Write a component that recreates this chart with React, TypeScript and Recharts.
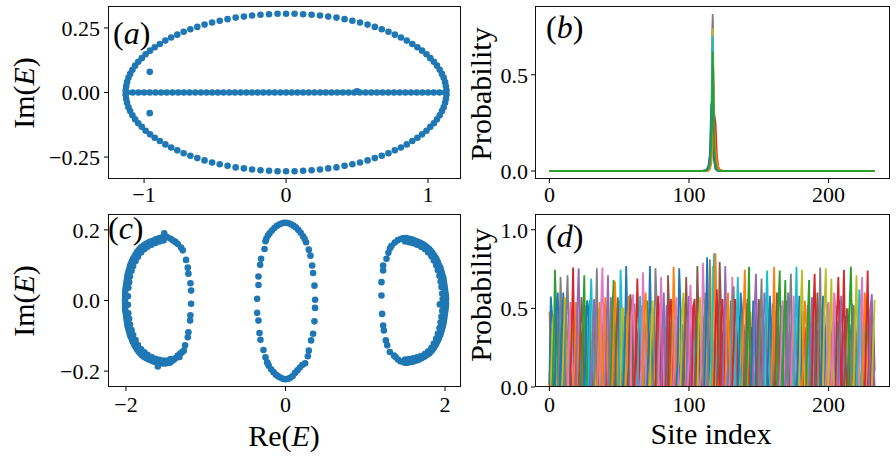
import React from 'react';
import { ScatterChart, Scatter, LineChart, Line, XAxis, YAxis } from 'recharts';

// matplotlib tab10 cycle
const C = ['#1f77b4', '#ff7f0e', '#2ca02c', '#d62728', '#9467bd', '#8c564b', '#e377c2', '#7f7f7f', '#bcbd22', '#17becf'];
const DOT = '#1f77b4';

// ---------- (a) eigenvalues, ellipse + real axis ----------
const ellipseA: [number, number][] = [
  [1.130, 0.008], [1.126, 0.024], [1.120, 0.040], [1.110, 0.057], [1.098, 0.072], [1.082, 0.088], [1.063, 0.104], [1.041, 0.119],
  [1.016, 0.133], [0.989, 0.148], [0.958, 0.162], [0.925, 0.175], [0.889, 0.188], [0.850, 0.201], [0.809, 0.213], [0.766, 0.224],
  [0.721, 0.235], [0.674, 0.245], [0.625, 0.254], [0.574, 0.263], [0.521, 0.271], [0.467, 0.278], [0.412, 0.284], [0.355, 0.290],
  [0.297, 0.294], [0.239, 0.298], [0.180, 0.301], [0.120, 0.303], [0.060, 0.305], [0.000, 0.305],
  [-0.060, 0.305], [-0.120, 0.303], [-0.180, 0.301], [-0.239, 0.298], [-0.297, 0.294], [-0.355, 0.290], [-0.412, 0.284], [-0.467, 0.278],
  [-0.521, 0.271], [-0.574, 0.263], [-0.625, 0.254], [-0.674, 0.245], [-0.721, 0.235], [-0.766, 0.224], [-0.809, 0.213], [-0.850, 0.201],
  [-0.889, 0.188], [-0.925, 0.175], [-0.958, 0.162], [-0.989, 0.148], [-1.016, 0.133], [-1.041, 0.119], [-1.063, 0.104], [-1.082, 0.088],
  [-1.098, 0.072], [-1.110, 0.057], [-1.120, 0.040], [-1.126, 0.024], [-1.130, 0.008],
  [1.130, -0.008], [1.126, -0.024], [1.120, -0.040], [1.110, -0.057], [1.098, -0.072], [1.082, -0.088], [1.063, -0.104], [1.041, -0.119],
  [1.016, -0.133], [0.989, -0.148], [0.958, -0.162], [0.925, -0.175], [0.889, -0.188], [0.850, -0.201], [0.809, -0.213], [0.766, -0.224],
  [0.721, -0.235], [0.674, -0.245], [0.625, -0.254], [0.574, -0.263], [0.521, -0.271], [0.467, -0.278], [0.412, -0.284], [0.355, -0.290],
  [0.297, -0.294], [0.239, -0.298], [0.180, -0.301], [0.120, -0.303], [0.060, -0.305], [0.000, -0.305],
  [-0.060, -0.305], [-0.120, -0.303], [-0.180, -0.301], [-0.239, -0.298], [-0.297, -0.294], [-0.355, -0.290], [-0.412, -0.284], [-0.467, -0.278],
  [-0.521, -0.271], [-0.574, -0.263], [-0.625, -0.254], [-0.674, -0.245], [-0.721, -0.235], [-0.766, -0.224], [-0.809, -0.213], [-0.850, -0.201],
  [-0.889, -0.188], [-0.925, -0.175], [-0.958, -0.162], [-0.989, -0.148], [-1.016, -0.133], [-1.041, -0.119], [-1.063, -0.104], [-1.082, -0.088],
  [-1.098, -0.072], [-1.110, -0.057], [-1.120, -0.040], [-1.126, -0.024], [-1.130, -0.008],
];
const realAxisRe = [
  -1.12, -1.08, -1.04, -1.00, -0.96, -0.92, -0.88, -0.84, -0.80, -0.76, -0.72, -0.68, -0.64, -0.60, -0.56, -0.52, -0.48, -0.44, -0.40,
  -0.36, -0.32, -0.28, -0.24, -0.20, -0.16, -0.12, -0.08, -0.04, 0.00, 0.04, 0.08, 0.12, 0.16, 0.20, 0.24, 0.28, 0.32, 0.36, 0.40,
  0.44, 0.48, 0.52, 0.56, 0.60, 0.64, 0.68, 0.72, 0.76, 0.80, 0.84, 0.88, 0.92, 0.96, 1.00, 1.04, 1.08, 1.12,
];
const extraA: [number, number][] = [[-0.96, 0.08], [-0.96, -0.08], [0.5, 0.005]];

// ---------- (c) eigenvalues, three loops ----------
const leftLoop: [number, number][] = [
  [-1.50, 0.180], [-1.525, 0.179], [-1.55, 0.178], [-1.575, 0.177], [-1.60, 0.175], [-1.625, 0.173], [-1.65, 0.170], [-1.675, 0.168],
  [-1.70, 0.166], [-1.725, 0.163], [-1.75, 0.160], [-1.775, 0.156], [-1.80, 0.152], [-1.82, 0.148], [-1.84, 0.143], [-1.86, 0.137],
  [-1.88, 0.130], [-1.895, 0.124], [-1.91, 0.118], [-1.925, 0.111], [-1.94, 0.103], [-1.95, 0.096], [-1.96, 0.088], [-1.97, 0.080],
  [-1.98, 0.072], [-1.985, 0.064], [-1.99, 0.056], [-1.995, 0.048], [-2.00, 0.040], [-2.005, 0.032], [-2.01, 0.024], [-2.01, 0.016],
  [-2.01, 0.008], [-2.012, 0.000], [-2.01, -0.008], [-2.01, -0.016], [-2.01, -0.024], [-2.005, -0.032], [-2.00, -0.040], [-1.995, -0.048],
  [-1.99, -0.056], [-1.985, -0.064], [-1.98, -0.072], [-1.97, -0.080], [-1.96, -0.088], [-1.95, -0.096], [-1.94, -0.103], [-1.925, -0.111],
  [-1.91, -0.118], [-1.895, -0.125], [-1.88, -0.132], [-1.86, -0.139], [-1.84, -0.145], [-1.82, -0.150], [-1.80, -0.155], [-1.775, -0.159],
  [-1.75, -0.163], [-1.725, -0.166], [-1.70, -0.168], [-1.675, -0.171], [-1.65, -0.173], [-1.625, -0.175], [-1.60, -0.176], [-1.575, -0.177],
  [-1.55, -0.178], [-1.525, -0.178], [-1.50, -0.178], [-1.475, -0.177], [-1.45, -0.176],
  [-1.53, 0.170], [-1.58, 0.167], [-1.63, 0.163], [-1.68, 0.158], [-1.73, 0.152], [-1.77, 0.145], [-1.81, 0.136], [-1.85, 0.124],
  [-1.88, 0.112], [-1.91, 0.098], [-1.93, 0.084], [-1.95, 0.068], [-1.96, 0.052], [-1.97, 0.036], [-1.975, 0.012], [-1.975, -0.012],
  [-1.97, -0.036], [-1.96, -0.052], [-1.95, -0.068], [-1.93, -0.084], [-1.91, -0.098], [-1.88, -0.112], [-1.85, -0.126], [-1.81, -0.138],
  [-1.77, -0.147], [-1.73, -0.154], [-1.68, -0.160], [-1.63, -0.165], [-1.58, -0.168], [-1.53, -0.170], [-1.48, -0.170], [-1.44, -0.166],
  [-1.52, 0.190], [-1.48, 0.179], [-1.44, 0.175], [-1.41, 0.170], [-1.38, 0.166], [-1.35, 0.160], [-1.31, 0.150], [-1.288, 0.142],
  [-1.43, -0.173], [-1.40, -0.168], [-1.37, -0.162], [-1.35, -0.156], [-1.32, -0.150], [-1.30, -0.147],
  [-1.246, 0.115], [-1.225, 0.093], [-1.217, 0.076], [-1.192, 0.049], [-1.183, 0.028], [-1.183, -0.009], [-1.192, -0.042],
  [-1.196, -0.057], [-1.217, -0.090], [-1.225, -0.104], [-1.259, -0.127], [-1.275, -0.142], [-1.33, -0.160], [-1.60, -0.187],
];
const centerLoop: [number, number][] = [
  [-0.263, 0.146], [-0.306, 0.118], [-0.318, 0.101], [-0.339, 0.068], [-0.339, 0.044], [-0.356, 0.005], [-0.356, -0.035],
  [-0.339, -0.057], [-0.326, -0.092], [-0.314, -0.111], [-0.276, -0.140], [-0.251, -0.161], [-0.231, -0.175],
  [0.258, 0.165], [0.292, 0.144], [0.313, 0.127], [0.334, 0.099], [0.346, 0.078], [0.363, 0.042], [0.371, 0.002], [0.371, -0.021],
  [0.363, -0.059], [0.346, -0.094], [0.321, -0.113], [0.292, -0.142], [0.280, -0.158], [0.246, -0.178],
  [-0.25, 0.168], [-0.24, 0.175], [-0.22, 0.184], [-0.20, 0.190], [-0.17, 0.198], [-0.14, 0.205], [-0.11, 0.211], [-0.08, 0.215],
  [-0.05, 0.218], [-0.02, 0.220], [0.01, 0.220], [0.04, 0.219], [0.07, 0.216], [0.10, 0.212], [0.13, 0.207], [0.16, 0.200],
  [0.19, 0.192], [0.22, 0.182], [0.24, 0.174],
  [-0.22, -0.180], [-0.21, -0.185], [-0.18, -0.195], [-0.15, -0.203], [-0.12, -0.210], [-0.09, -0.215], [-0.06, -0.219], [-0.03, -0.222],
  [0.00, -0.223], [0.03, -0.222], [0.06, -0.219], [0.09, -0.214], [0.12, -0.205], [0.15, -0.198], [0.18, -0.190], [0.21, -0.183],
];
const rightLoop: [number, number][] = [
  [1.475, 0.176], [1.50, 0.177], [1.52, 0.176], [1.54, 0.175], [1.56, 0.174], [1.58, 0.173], [1.60, 0.171], [1.625, 0.169],
  [1.65, 0.167], [1.675, 0.165], [1.70, 0.162], [1.725, 0.159], [1.75, 0.155], [1.775, 0.151], [1.80, 0.146], [1.82, 0.141],
  [1.84, 0.135], [1.86, 0.129], [1.88, 0.122], [1.895, 0.115], [1.91, 0.108], [1.925, 0.100], [1.94, 0.093], [1.95, 0.086],
  [1.96, 0.078], [1.97, 0.070], [1.98, 0.062], [1.985, 0.054], [1.99, 0.046], [1.995, 0.038], [2.00, 0.030], [2.005, 0.022],
  [2.01, 0.014], [2.012, 0.006], [2.01, -0.002], [2.012, -0.010], [2.01, -0.018], [2.005, -0.026], [2.00, -0.034], [1.995, -0.042],
  [1.99, -0.050], [1.985, -0.058], [1.98, -0.066], [1.97, -0.074], [1.96, -0.082], [1.95, -0.090], [1.94, -0.098], [1.925, -0.106],
  [1.91, -0.113], [1.895, -0.120], [1.88, -0.127], [1.86, -0.134], [1.84, -0.140], [1.82, -0.145], [1.80, -0.150], [1.775, -0.154],
  [1.75, -0.158], [1.725, -0.161], [1.70, -0.164], [1.675, -0.167], [1.65, -0.169], [1.625, -0.171], [1.60, -0.173], [1.575, -0.174],
  [1.55, -0.175], [1.525, -0.176], [1.50, -0.176], [1.48, -0.175],
  [1.50, 0.167], [1.55, 0.165], [1.60, 0.162], [1.65, 0.158], [1.70, 0.152], [1.75, 0.145], [1.79, 0.136], [1.83, 0.125],
  [1.86, 0.113], [1.89, 0.100], [1.91, 0.086], [1.93, 0.070], [1.945, 0.054], [1.955, 0.038], [1.965, 0.020], [1.97, 0.004],
  [1.97, -0.014], [1.965, -0.030], [1.955, -0.046], [1.945, -0.062], [1.93, -0.078], [1.91, -0.094], [1.89, -0.108], [1.86, -0.122],
  [1.83, -0.134], [1.79, -0.144], [1.75, -0.151], [1.70, -0.157], [1.65, -0.161], [1.60, -0.164], [1.55, -0.166], [1.50, -0.167],
  [1.45, 0.175], [1.41, 0.171], [1.37, 0.164], [1.33, 0.155], [1.31, 0.148], [1.29, 0.135],
  [1.44, -0.172], [1.41, -0.167], [1.38, -0.160], [1.36, -0.156],
  [1.266, 0.118], [1.224, 0.099], [1.224, 0.085], [1.203, 0.052], [1.203, 0.014], [1.211, -0.038], [1.224, -0.071], [1.233, -0.085],
  [1.258, -0.113], [1.275, -0.127], [1.308, -0.146], [1.935, -0.011],
];

// ---------- (b) localized eigenstates ----------
const sitesB = [0, 108, 110, 112, 113, 114, 115, 116, 117, 118, 119, 120, 121, 122, 124, 126, 233];
const statesB: number[][] = [
  [0, 0, 0, 0.001, 0.003, 0.01, 0.03, 0.12, 0.55, 0.14, 0.03, 0.008, 0.002, 0.001, 0, 0, 0],
  [0, 0, 0.001, 0.002, 0.005, 0.015, 0.05, 0.18, 0.62, 0.12, 0.02, 0.005, 0.001, 0, 0, 0, 0],
  [0, 0, 0, 0.001, 0.004, 0.012, 0.04, 0.15, 0.45, 0.2, 0.06, 0.015, 0.004, 0.001, 0, 0, 0],
  [0, 0, 0, 0, 0.002, 0.006, 0.02, 0.07, 0.22, 0.30, 0.25, 0.08, 0.02, 0.006, 0.001, 0, 0],
  [0, 0, 0, 0.001, 0.003, 0.008, 0.025, 0.09, 0.72, 0.1, 0.025, 0.007, 0.002, 0, 0, 0, 0],
  [0, 0, 0, 0.001, 0.002, 0.006, 0.02, 0.08, 0.76, 0.09, 0.02, 0.006, 0.001, 0, 0, 0, 0],
  [0, 0, 0, 0.001, 0.002, 0.005, 0.018, 0.07, 0.79, 0.08, 0.02, 0.005, 0.001, 0, 0, 0, 0],
  [0, 0, 0, 0, 0.001, 0.004, 0.015, 0.06, 0.816, 0.07, 0.015, 0.004, 0.001, 0, 0, 0, 0],
  [0, 0, 0, 0.001, 0.003, 0.008, 0.03, 0.1, 0.74, 0.11, 0.03, 0.008, 0.002, 0, 0, 0, 0],
  [0, 0, 0.001, 0.003, 0.008, 0.025, 0.08, 0.30, 0.70, 0.1, 0.02, 0.005, 0.001, 0, 0, 0, 0],
  [0, 0.001, 0.002, 0.006, 0.012, 0.03, 0.09, 0.35, 0.3, 0.05, 0.01, 0.003, 0.001, 0, 0, 0, 0],
  [0, 0, 0, 0, 0.001, 0.004, 0.012, 0.04, 0.15, 0.25, 0.12, 0.05, 0.02, 0.008, 0.002, 0, 0],
  [0, 0, 0, 0.001, 0.004, 0.01, 0.035, 0.13, 0.62, 0.16, 0.04, 0.01, 0.003, 0.001, 0, 0, 0],
];

// ---------- (d) extended eigenstates: [site, peak, left neighbour, right neighbour, colour] ----------
// lower states lying between the main peaks (drawn first)
const lowSpikesD: [number, number, number, number, number][] = [
  [0, 0.48, 0.0, 0.25, 1], [2, 0.38, 0.3, 0.1, 3], [5, 0.52, 0.2, 0.2, 4], [7, 0.42, 0.15, 0.3, 9], [9, 0.55, 0.25, 0.15, 2],
  [12, 0.35, 0.1, 0.25, 6], [14, 0.45, 0.3, 0.1, 5], [16, 0.50, 0.2, 0.2, 8], [18, 0.40, 0.15, 0.3, 0], [20, 0.53, 0.25, 0.15, 7],
  [22, 0.48, 0.1, 0.25, 1], [24, 0.38, 0.3, 0.1, 3], [26, 0.52, 0.2, 0.2, 4], [28, 0.42, 0.15, 0.3, 9], [29, 0.55, 0.25, 0.15, 2],
  [31, 0.35, 0.1, 0.25, 6], [33, 0.45, 0.3, 0.1, 5], [35, 0.50, 0.2, 0.2, 8], [37, 0.40, 0.15, 0.3, 0], [39, 0.53, 0.25, 0.15, 7],
  [41, 0.48, 0.1, 0.25, 1], [43, 0.38, 0.3, 0.1, 3], [45, 0.52, 0.2, 0.2, 4], [48, 0.42, 0.15, 0.3, 9], [50, 0.55, 0.25, 0.15, 2],
  [52, 0.35, 0.1, 0.25, 6], [54, 0.45, 0.3, 0.1, 5], [56, 0.50, 0.2, 0.2, 8], [59, 0.40, 0.15, 0.3, 0], [61, 0.53, 0.25, 0.15, 7],
  [62, 0.48, 0.1, 0.25, 1], [64, 0.38, 0.3, 0.1, 3], [66, 0.52, 0.2, 0.2, 4], [68, 0.42, 0.15, 0.3, 9], [70, 0.55, 0.25, 0.15, 2],
  [71, 0.35, 0.1, 0.25, 6], [73, 0.45, 0.3, 0.1, 5], [75, 0.50, 0.2, 0.2, 8], [77, 0.40, 0.15, 0.3, 0], [79, 0.53, 0.25, 0.15, 7],
  [81, 0.48, 0.1, 0.25, 1], [83, 0.38, 0.3, 0.1, 3], [84, 0.52, 0.2, 0.2, 4], [86, 0.42, 0.15, 0.3, 9], [88, 0.55, 0.25, 0.15, 2],
  [90, 0.35, 0.1, 0.25, 6], [92, 0.45, 0.3, 0.1, 5], [94, 0.50, 0.2, 0.2, 8], [95, 0.40, 0.15, 0.3, 0], [97, 0.53, 0.25, 0.15, 7],
  [99, 0.48, 0.1, 0.25, 1], [102, 0.38, 0.3, 0.1, 3], [103, 0.52, 0.2, 0.2, 4], [105, 0.42, 0.15, 0.3, 9], [107, 0.55, 0.25, 0.15, 2],
  [109, 0.35, 0.1, 0.25, 6], [111, 0.45, 0.3, 0.1, 5], [114, 0.50, 0.2, 0.2, 8], [116, 0.40, 0.15, 0.3, 0], [121, 0.53, 0.25, 0.15, 7],
  [123, 0.48, 0.1, 0.25, 1], [125, 0.38, 0.3, 0.1, 3], [127, 0.52, 0.2, 0.2, 4], [129, 0.42, 0.15, 0.3, 9], [130, 0.55, 0.25, 0.15, 2],
  [134, 0.35, 0.1, 0.25, 6], [136, 0.45, 0.3, 0.1, 5], [138, 0.50, 0.2, 0.2, 8], [139, 0.40, 0.15, 0.3, 0], [141, 0.53, 0.25, 0.15, 7],
  [144, 0.48, 0.1, 0.25, 1], [145, 0.38, 0.3, 0.1, 3], [147, 0.52, 0.2, 0.2, 4], [149, 0.42, 0.15, 0.3, 9], [151, 0.55, 0.25, 0.15, 2],
  [153, 0.35, 0.1, 0.25, 6], [155, 0.45, 0.3, 0.1, 5], [157, 0.50, 0.2, 0.2, 8], [159, 0.40, 0.15, 0.3, 0], [160, 0.53, 0.25, 0.15, 7],
  [162, 0.48, 0.1, 0.25, 1], [164, 0.38, 0.3, 0.1, 3], [166, 0.52, 0.2, 0.2, 4], [168, 0.42, 0.15, 0.3, 9], [170, 0.55, 0.25, 0.15, 2],
  [172, 0.35, 0.1, 0.25, 6], [174, 0.45, 0.3, 0.1, 5], [176, 0.50, 0.2, 0.2, 8], [178, 0.40, 0.15, 0.3, 0], [180, 0.53, 0.25, 0.15, 7],
  [182, 0.48, 0.1, 0.25, 1], [184, 0.38, 0.3, 0.1, 3], [185, 0.52, 0.2, 0.2, 4], [187, 0.42, 0.15, 0.3, 9], [189, 0.55, 0.25, 0.15, 2],
  [191, 0.35, 0.1, 0.25, 6], [193, 0.45, 0.3, 0.1, 5], [195, 0.50, 0.2, 0.2, 8], [197, 0.40, 0.15, 0.3, 0], [199, 0.53, 0.25, 0.15, 7],
  [201, 0.48, 0.1, 0.25, 1], [203, 0.38, 0.3, 0.1, 3], [205, 0.52, 0.2, 0.2, 4], [206, 0.42, 0.15, 0.3, 9], [208, 0.55, 0.25, 0.15, 2],
  [210, 0.35, 0.1, 0.25, 6], [212, 0.45, 0.3, 0.1, 5], [214, 0.50, 0.2, 0.2, 8], [215, 0.40, 0.15, 0.3, 0], [217, 0.53, 0.25, 0.15, 7],
  [219, 0.48, 0.1, 0.25, 1], [221, 0.38, 0.3, 0.1, 3], [223, 0.52, 0.2, 0.2, 4], [225, 0.42, 0.15, 0.3, 9], [227, 0.55, 0.25, 0.15, 2],
  [229, 0.35, 0.1, 0.25, 6], [232, 0.45, 0.3, 0.1, 5],
];
// main peaks
const spikesD: [number, number, number, number, number][] = [
  [1, 0.575, 0.02, 0.45, 0], [3, 0.46, 0.35, 0.2, 8], [4, 0.745, 0.15, 0.45, 2], [6, 0.60, 0.5, 0.25, 0], [8, 0.70, 0.25, 0.4, 7],
  [10, 0.60, 0.4, 0.15, 0], [11, 0.57, 0.2, 0.5, 8], [13, 0.71, 0.45, 0.3, 7], [15, 0.54, 0.3, 0.35, 6], [17, 0.76, 0.35, 0.2, 3],
  [19, 0.54, 0.15, 0.45, 1], [21, 0.755, 0.5, 0.25, 4], [23, 0.57, 0.25, 0.4, 5], [25, 0.71, 0.4, 0.15, 2], [27, 0.55, 0.2, 0.5, 0],
  [30, 0.69, 0.45, 0.3, 9], [32, 0.56, 0.3, 0.35, 4], [34, 0.755, 0.35, 0.2, 7], [36, 0.54, 0.15, 0.45, 1], [38, 0.76, 0.5, 0.25, 6],
  [40, 0.57, 0.25, 0.4, 1], [42, 0.71, 0.4, 0.15, 4], [44, 0.57, 0.2, 0.5, 7], [46, 0.68, 0.45, 0.3, 2], [47, 0.67, 0.3, 0.35, 1],
  [49, 0.57, 0.35, 0.2, 5], [51, 0.745, 0.15, 0.45, 9], [53, 0.50, 0.5, 0.25, 8], [55, 0.77, 0.25, 0.4, 0], [57, 0.58, 0.4, 0.15, 1],
  [58, 0.59, 0.2, 0.5, 5], [60, 0.59, 0.45, 0.3, 6], [63, 0.69, 0.3, 0.35, 3], [65, 0.58, 0.35, 0.2, 9], [67, 0.73, 0.15, 0.45, 6],
  [69, 0.60, 0.5, 0.25, 1], [72, 0.77, 0.25, 0.4, 0], [74, 0.55, 0.4, 0.15, 8], [76, 0.755, 0.2, 0.5, 7], [78, 0.58, 0.45, 0.3, 3],
  [80, 0.70, 0.3, 0.35, 6], [82, 0.60, 0.35, 0.2, 4], [85, 0.71, 0.15, 0.45, 5], [87, 0.56, 0.5, 0.25, 3], [89, 0.765, 0.25, 0.4, 1],
  [91, 0.57, 0.4, 0.15, 6], [93, 0.755, 0.2, 0.5, 0], [96, 0.60, 0.45, 0.3, 8], [98, 0.70, 0.3, 0.35, 5], [100, 0.58, 0.35, 0.2, 4],
  [101, 0.65, 0.15, 0.45, 6], [104, 0.56, 0.5, 0.25, 3], [106, 0.77, 0.25, 0.4, 5], [108, 0.57, 0.4, 0.15, 8], [110, 0.79, 0.2, 0.5, 6],
  [112, 0.60, 0.45, 0.3, 7], [113, 0.825, 0.3, 0.35, 0], [115, 0.81, 0.35, 0.2, 7], [117, 0.77, 0.15, 0.45, 8], [118, 0.85, 0.5, 0.25, 9],
  [119, 0.85, 0.25, 0.4, 1], [120, 0.62, 0.4, 0.15, 3], [122, 0.795, 0.2, 0.5, 5], [124, 0.56, 0.45, 0.3, 3], [126, 0.77, 0.3, 0.35, 4],
  [128, 0.60, 0.35, 0.2, 1], [131, 0.70, 0.15, 0.45, 6], [132, 0.64, 0.5, 0.25, 7], [133, 0.56, 0.25, 0.4, 3], [135, 0.70, 0.4, 0.15, 9],
  [137, 0.60, 0.2, 0.5, 0], [140, 0.745, 0.45, 0.3, 1], [142, 0.56, 0.3, 0.35, 5], [143, 0.765, 0.35, 0.2, 2], [146, 0.55, 0.15, 0.45, 0],
  [148, 0.72, 0.5, 0.25, 4], [150, 0.56, 0.25, 0.4, 5], [152, 0.69, 0.4, 0.15, 7], [154, 0.60, 0.2, 0.5, 4], [156, 0.74, 0.45, 0.3, 9],
  [158, 0.58, 0.3, 0.35, 0], [161, 0.765, 0.35, 0.2, 1], [163, 0.60, 0.15, 0.45, 5], [165, 0.74, 0.5, 0.25, 2], [167, 0.55, 0.25, 0.4, 6],
  [169, 0.68, 0.4, 0.15, 2], [171, 0.60, 0.2, 0.5, 4], [173, 0.72, 0.45, 0.3, 7], [175, 0.58, 0.3, 0.35, 6], [177, 0.765, 0.35, 0.2, 9],
  [179, 0.58, 0.15, 0.45, 0], [181, 0.745, 0.5, 0.25, 8], [183, 0.55, 0.25, 0.4, 1], [186, 0.68, 0.4, 0.15, 2], [188, 0.57, 0.2, 0.5, 4],
  [190, 0.72, 0.45, 0.3, 3], [192, 0.60, 0.3, 0.35, 5], [194, 0.76, 0.35, 0.2, 7], [196, 0.58, 0.15, 0.45, 0], [198, 0.755, 0.5, 0.25, 8],
  [200, 0.54, 0.25, 0.4, 6], [202, 0.69, 0.4, 0.15, 8], [204, 0.60, 0.2, 0.5, 6], [207, 0.70, 0.45, 0.3, 3], [209, 0.58, 0.3, 0.35, 4],
  [211, 0.745, 0.35, 0.2, 3], [213, 0.50, 0.15, 0.45, 5], [216, 0.765, 0.5, 0.25, 2], [218, 0.52, 0.25, 0.4, 7], [220, 0.71, 0.4, 0.15, 8],
  [222, 0.62, 0.2, 0.5, 9], [224, 0.70, 0.45, 0.3, 6], [226, 0.60, 0.3, 0.35, 1], [228, 0.74, 0.35, 0.2, 3], [230, 0.50, 0.15, 0.45, 5],
  [231, 0.59, 0.5, 0.25, 4], [233, 0.555, 0.3, 0.0, 8],
];
const baselineSites = [0, 233];
const baselineProb = [0, 0];
const LAST_SITE = 233;

// ---------- axes ----------
const aXTicks = [-1, 0, 1];
const aXLabels = ['−1', '0', '1'];
const aYTicks = [-0.25, 0, 0.25];
const aYLabels = ['−0.25', '0.00', '0.25'];
const cXTicks = [-2, 0, 2];
const cXLabels = ['−2', '0', '2'];
const cYTicks = [-0.2, 0, 0.2];
const cYLabels = ['−0.2', '0.0', '0.2'];
const siteTicks = [0, 100, 200];
const siteLabels = ['0', '100', '200'];
const bYTicks = [0, 0.5];
const bYLabels = ['0.0', '0.5'];
const dYTicks = [0, 0.5, 1];
const dYLabels = ['0.0', '0.5', '1.0'];

const FONT = '"Liberation Serif", "DejaVu Serif", serif';
const tickStyle = { fontFamily: FONT, fontSize: 22, fill: '#000' };

const toXY = (pts: [number, number][]) => pts.map(([x, y]) => ({ x, y }));
const fmt = (ticks: number[], labels: string[]) => (v: number) => labels[ticks.indexOf(v)] ?? String(v);

const dot = (p: any) => <circle cx={p.cx} cy={p.cy} r={3.3} fill={DOT} />;

const spikeLine = ([site, peak, l, r]: [number, number, number, number, number]) =>
  [[site - 2, 0], [site - 1, l], [site, peak], [site + 1, r], [site + 2, 0]]
    .filter(([x]) => x >= 0 && x <= LAST_SITE)
    .map(([x, y]) => ({ x, y }));

const Frame = ({ left, top, width, height }: { left: number; top: number; width: number; height: number }) => (
  <div style={{ position: 'absolute', left, top, width, height, border: '1px solid #111', boxSizing: 'border-box', pointerEvents: 'none' }} />
);

const Tag = ({ left, top, letter }: { left: number; top: number; letter: string }) => (
  <div style={{ position: 'absolute', left, top, fontFamily: FONT, fontSize: 32, lineHeight: 1, whiteSpace: 'nowrap' }}>
    (<i>{letter}</i>)
  </div>
);

const Label = ({ cx, cy, rotate, children }: { cx: number; cy: number; rotate?: boolean; children: React.ReactNode }) => (
  <div
    style={{
      position: 'absolute', left: cx, top: cy, fontFamily: FONT, fontSize: 30, lineHeight: 1, whiteSpace: 'nowrap',
      transform: `translate(-50%, -50%)${rotate ? ' rotate(-90deg)' : ''}`,
    }}
  >
    {children}
  </div>
);

const axisCommon = {
  type: 'number' as const,
  allowDataOverflow: true,
  axisLine: false,
  tickLine: { stroke: '#000' },
  tickSize: 4,
  tick: tickStyle,
  interval: 0 as const,
};

const M = { top: 0, right: 0, bottom: 0, left: 0 };

const App: React.FC = () => {
  return (
    <div style={{ position: 'absolute', left: 0, top: 0, width: 896, height: 457, background: '#fff', overflow: 'hidden' }}>
      {/* (a) */}
      <div style={{ position: 'absolute', left: 0, top: 6 }}>
        <ScatterChart width={461} height={203} margin={M}>
          <XAxis {...axisCommon} dataKey="x" domain={[-1.254, 1.232]} ticks={aXTicks} tickFormatter={fmt(aXTicks, aXLabels)} tickMargin={3} height={30} />
          <YAxis {...axisCommon} dataKey="y" domain={[-0.335, 0.335]} ticks={aYTicks} tickFormatter={fmt(aYTicks, aYLabels)} tickMargin={4} width={108} />
          <Scatter data={toXY(ellipseA)} shape={dot} isAnimationActive={false} />
          <Scatter data={realAxisRe.map((x) => ({ x, y: 0 }))} shape={dot} isAnimationActive={false} />
          <Scatter data={toXY(extraA)} shape={dot} isAnimationActive={false} />
        </ScatterChart>
      </div>

      {/* (c) */}
      <div style={{ position: 'absolute', left: 0, top: 214 }}>
        <ScatterChart width={461} height={203} margin={M}>
          <XAxis {...axisCommon} dataKey="x" domain={[-2.225, 2.2]} ticks={cXTicks} tickFormatter={fmt(cXTicks, cXLabels)} tickMargin={5} height={30} />
          <YAxis {...axisCommon} dataKey="y" domain={[-0.245, 0.245]} ticks={cYTicks} tickFormatter={fmt(cYTicks, cYLabels)} tickMargin={4} width={108} />
          <Scatter data={toXY(leftLoop)} shape={dot} isAnimationActive={false} />
          <Scatter data={toXY(centerLoop)} shape={dot} isAnimationActive={false} />
          <Scatter data={toXY(rightLoop)} shape={dot} isAnimationActive={false} />
        </ScatterChart>
      </div>

      {/* (b) */}
      <div style={{ position: 'absolute', left: 460, top: 6 }}>
        <LineChart width={430} height={203} margin={M}>
          <XAxis {...axisCommon} dataKey="x" domain={[-10.3, 244]} ticks={siteTicks} tickFormatter={fmt(siteTicks, siteLabels)} tickMargin={3} height={30} />
          <YAxis {...axisCommon} dataKey="y" domain={[-0.0415, 0.857]} ticks={bYTicks} tickFormatter={fmt(bYTicks, bYLabels)} tickMargin={3} width={75} />
          {statesB.map((vals, i) => (
            <Line
              key={i}
              data={sitesB.map((x, j) => ({ x, y: vals[j] }))}
              dataKey="y"
              stroke={C[i % 10]}
              strokeWidth={1.8}
              dot={false}
              isAnimationActive={false}
            />
          ))}
        </LineChart>
      </div>

      {/* (d) */}
      <div style={{ position: 'absolute', left: 460, top: 214 }}>
        <LineChart width={430} height={203} margin={M}>
          <XAxis {...axisCommon} dataKey="x" domain={[-10.3, 244]} ticks={siteTicks} tickFormatter={fmt(siteTicks, siteLabels)} tickMargin={5} height={30} />
          <YAxis {...axisCommon} dataKey="y" domain={[0, 1.1]} ticks={dYTicks} tickFormatter={fmt(dYTicks, dYLabels)} tickMargin={3} width={75} />
          {lowSpikesD.map((s, i) => (
            <Line key={`l${i}`} data={spikeLine(s)} dataKey="y" stroke={C[s[4]]} strokeWidth={1.8} dot={false} isAnimationActive={false} />
          ))}
          {spikesD.map((s, i) => (
            <Line key={`m${i}`} data={spikeLine(s)} dataKey="y" stroke={C[s[4]]} strokeWidth={1.8} dot={false} isAnimationActive={false} />
          ))}
          <Line
            data={baselineSites.map((x, j) => ({ x, y: baselineProb[j] }))}
            dataKey="y"
            stroke={C[2]}
            strokeWidth={2}
            dot={false}
            isAnimationActive={false}
          />
        </LineChart>
      </div>

      <Frame left={108} top={6} width={353} height={173} />
      <Frame left={535} top={6} width={355} height={173} />
      <Frame left={108} top={214} width={353} height={173} />
      <Frame left={535} top={214} width={355} height={173} />

      <Tag left={113} top={17} letter="a" />
      <Tag left={546} top={11} letter="b" />
      <Tag left={108} top={212} letter="c" />
      <Tag left={546} top={220} letter="d" />

      <Label cx={24} cy={93} rotate>Im(<i>E</i>)</Label>
      <Label cx={24} cy={301} rotate>Im(<i>E</i>)</Label>
      <Label cx={481} cy={94} rotate>Probability</Label>
      <Label cx={481} cy={295} rotate>Probability</Label>
      <Label cx={284} cy={436}>Re(<i>E</i>)</Label>
      <Label cx={711} cy={434}>Site index</Label>
    </div>
  );
};

export default App;
